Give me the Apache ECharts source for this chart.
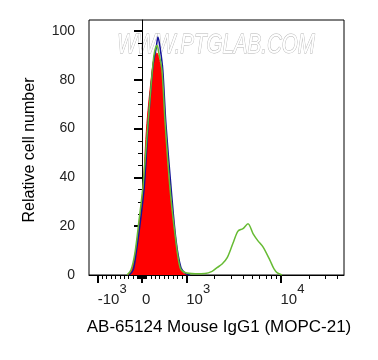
<!DOCTYPE html>
<html>
<head>
<meta charset="utf-8">
<script src="https://cdn.jsdelivr.net/npm/echarts@6/dist/echarts.min.js"></script>
<style>
  html, body { margin: 0; padding: 0; background: #fff; }
  #chart { width: 378px; height: 360px; }
</style>
</head>
<body>
<div id="chart"></div>
<script>
// histogram data: x = fluorescence intensity, y = relative cell number
const redX   = [-320, -230, -160, -70, 20, 110, 230, 290, 340, 380, 450, 520, 630, 750, 860, 950, 1040];
const redY   = [0, 2, 8, 20, 35, 62, 84, 90, 91, 89, 83, 62, 35, 15, 3, 0.5, 0];

const blueX  = [-290, -200, -140, -50, 50, 140, 250, 320, 360, 410, 470, 540, 660, 770, 880, 990, 1100];
const blueY  = [0, 2, 8, 20, 36, 62, 86, 93, 97.5, 93, 84, 62, 35, 14, 3, 0.5, 0];

const greenX = [-340, -250, -160, -70, 20, 140, 250, 290, 340, 380, 450, 520, 630, 750, 860, 970,
                1240, 1580, 1880, 2120, 2400, 2710, 3130, 3540, 4000, 4520, 5110, 5770, 6520, 7740, 8540, 9190, 10380];
const greenY = [0, 2, 9, 22, 36, 63, 87, 92, 94, 91, 84, 63, 36, 16, 3, 1,
                0.5, 0.6, 1.5, 3, 4.5, 7, 13, 18, 19, 21, 17, 14, 11.5, 6, 2.5, 1, 0];

// axis ticks
const xMajor = [-1000, 0, 1000, 10000];
const xMajorLabels = ['{b|-10}{s|3}', '{b|0}', '{b|10}{s|3}', '{b|10}{s|4}'];
const xMinor = [-900, -800, -700, -600, -500, -400, -300, -200, -100,
                -90, -80, -70, -60, -50, -40, -30, -20, -10,
                10, 20, 30, 40, 50, 60, 70, 80, 90,
                100, 200, 300, 400, 500, 600, 700, 800, 900,
                2000, 3000, 4000, 5000, 6000, 7000, 8000, 9000,
                20000, 30000, 40000];
const yMajor = [0, 20, 40, 60, 80, 100];
const yMinor = [5, 10, 15, 25, 30, 35, 45, 50, 55, 65, 70, 75, 85, 90, 95];

// biexponential-like display transform (linear around 0, log beyond 10^3)
const LIN = 0.47;
function fx(v) {
  const a = Math.abs(v);
  if (a <= 1000) return v / 1000 * LIN;
  return (v < 0 ? -1 : 1) * (LIN + Math.log10(a / 1000));
}
const X_MIN = -0.5626, X_MAX = 2.1444;

const font = '"Liberation Sans", Arial, sans-serif';
const myChart = echarts.init(document.getElementById('chart'));

myChart.setOption({
  animation: false,
  grid: { left: 89, top: 20, right: 34, bottom: 85, show: true, borderColor: '#000', borderWidth: 1, backgroundColor: 'transparent' },
  xAxis: [
    {
      type: 'value', min: X_MIN, max: X_MAX,
      axisLine: { show: true, lineStyle: { color: '#000', width: 1 } },
      splitLine: { show: false },
      axisTick: { show: true, length: 8, lineStyle: { color: '#000', width: 2 }, customValues: xMajor.map(fx) },
      axisLabel: {
        show: true, align: 'left', margin: 8, customValues: xMajor.map(fx),
        formatter: function (val) {
          const i = xMajor.findIndex(t => Math.abs(fx(t) - val) < 1e-6);
          return i >= 0 ? xMajorLabels[i] : '';
        },
        rich: {
          b: { fontFamily: font, fontSize: 15, color: '#222', lineHeight: 24, verticalAlign: 'bottom' },
          s: { fontFamily: font, fontSize: 13, color: '#222', lineHeight: 13, verticalAlign: 'top' }
        }
      }
    },
    {
      type: 'value', min: X_MIN, max: X_MAX, position: 'bottom',
      axisLine: { show: false }, splitLine: { show: false }, axisLabel: { show: false },
      axisTick: { show: true, length: 4, lineStyle: { color: '#000', width: 1 }, customValues: xMinor.map(fx) }
    }
  ],
  yAxis: [
    {
      type: 'value', min: 0, max: 104.5,
      axisLine: { show: true, lineStyle: { color: '#000', width: 1 } },
      splitLine: { show: false },
      axisTick: { show: true, length: 8, lineStyle: { color: '#000', width: 2 }, customValues: yMajor },
      axisLabel: { show: true, margin: 14, fontFamily: font, fontSize: 14, color: '#222', customValues: yMajor }
    },
    {
      type: 'value', min: 0, max: 104.5, position: 'left',
      axisLine: { show: false }, splitLine: { show: false }, axisLabel: { show: false },
      axisTick: { show: true, length: 4, lineStyle: { color: '#000', width: 1 }, customValues: yMinor }
    }
  ],
  graphic: [
    {
      type: 'text', x: 216, y: 45, scaleX: 0.76, z: 0,
      style: { text: 'WWW.PTGLAB.COM', fontFamily: font, fontSize: 27, fontStyle: 'italic',
               fill: '#fff', stroke: '#b4b4b4', lineWidth: 1, textAlign: 'center', textVerticalAlign: 'middle' }
    },
    {
      type: 'text', x: 30, y: 150, rotation: Math.PI / 2,
      style: { text: 'Relative cell number', fontFamily: font, fontSize: 16, fill: '#000',
               textAlign: 'center', textVerticalAlign: 'middle' }
    },
    {
      type: 'text', x: 219, y: 327,
      style: { text: 'AB-65124 Mouse IgG1 (MOPC-21)', fontFamily: font, fontSize: 17, fill: '#000',
               textAlign: 'center', textVerticalAlign: 'middle' }
    }
  ],
  series: [
    {
      type: 'line', smooth: 0.3, symbol: 'none', z: 2,
      data: redX.map((x, i) => [fx(x), redY[i]]),
      lineStyle: { color: '#ff0000', width: 1 },
      areaStyle: { color: '#ff0000', opacity: 1 }
    },
    {
      type: 'line', smooth: 0.3, symbol: 'none', z: 3,
      data: blueX.map((x, i) => [fx(x), blueY[i]]),
      lineStyle: { color: '#14149a', width: 1.5 }
    },
    {
      type: 'line', smooth: 0.3, symbol: 'none', z: 4,
      data: greenX.map((x, i) => [fx(x), greenY[i]]),
      lineStyle: { color: '#66bb33', width: 1.5 }
    }
  ]
});
</script>
</body>
</html>
